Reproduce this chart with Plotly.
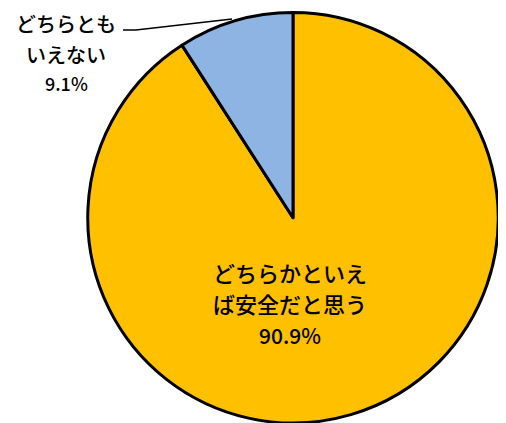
import plotly.graph_objects as go

categories = ["どちらかといえば安全だと思う", "どちらともいえない"]
values = [90.9, 9.1]
colors = ["#FFC000", "#8DB4E2"]

inner_label_lines = ["どちらかといえ", "ば安全だと思う", "90.9%"]
outer_label_lines = ["どちらとも", "いえない", "9.1%"]

# page body has an 8px margin; the figure is sized to fill the rest of the window
OFF = 8
W, H = 506 - OFF, 423 - OFF
FONT = "Noto Sans CJK JP"

CX, CY, R = 293 - OFF, 218 - OFF, 205.5  # pie centre / radius in figure pixels

fig = go.Figure(go.Pie(
    labels=categories,
    values=values,
    sort=False,
    direction="clockwise",
    rotation=0,
    marker=dict(colors=colors, line=dict(color="#000000", width=3)),
    textinfo="none",
    hoverinfo="label+percent",
    domain=dict(x=[(CX - R) / W, (CX + R) / W],
                y=[max(0.0, (H - CY - R) / H), min(1.0, (H - CY + R) / H)]),
    showlegend=False,
))

def px(x, y):
    return (x - OFF) / W, 1 - (y - OFF) / H

annotations = []
for i, (line, yy) in enumerate(zip(inner_label_lines, [272, 303, 335])):
    ax, ay = px(290, yy)
    annotations.append(dict(x=ax, y=ay, xref="paper", yref="paper", text=line,
                            showarrow=False, xanchor="center", yanchor="middle",
                            font=dict(family=FONT, size=22 if i < 2 else 21, color="#000000", weight=500)))
for i, (line, yy) in enumerate(zip(outer_label_lines, [24, 55, 83])):
    ax, ay = px(66, yy)
    annotations.append(dict(x=ax, y=ay, xref="paper", yref="paper", text=line,
                            showarrow=False, xanchor="center", yanchor="middle",
                            font=dict(family=FONT, size=20 if i < 2 else 18, color="#000000", weight=500)))

p0 = px(123, 30); p1 = px(136, 30); p2 = px(232, 19)
leader = dict(type="path", xref="paper", yref="paper",
              path=f"M {p0[0]} {p0[1]} L {p1[0]} {p1[1]} L {p2[0]} {p2[1]}",
              line=dict(color="#000000", width=1.5))

fig.update_layout(
    width=W, height=H,
    margin=dict(l=0, r=0, t=0, b=0),
    paper_bgcolor="#FFFFFF", plot_bgcolor="#FFFFFF",
    annotations=annotations,
    shapes=[leader],
)

fig.write_html("out.html")
